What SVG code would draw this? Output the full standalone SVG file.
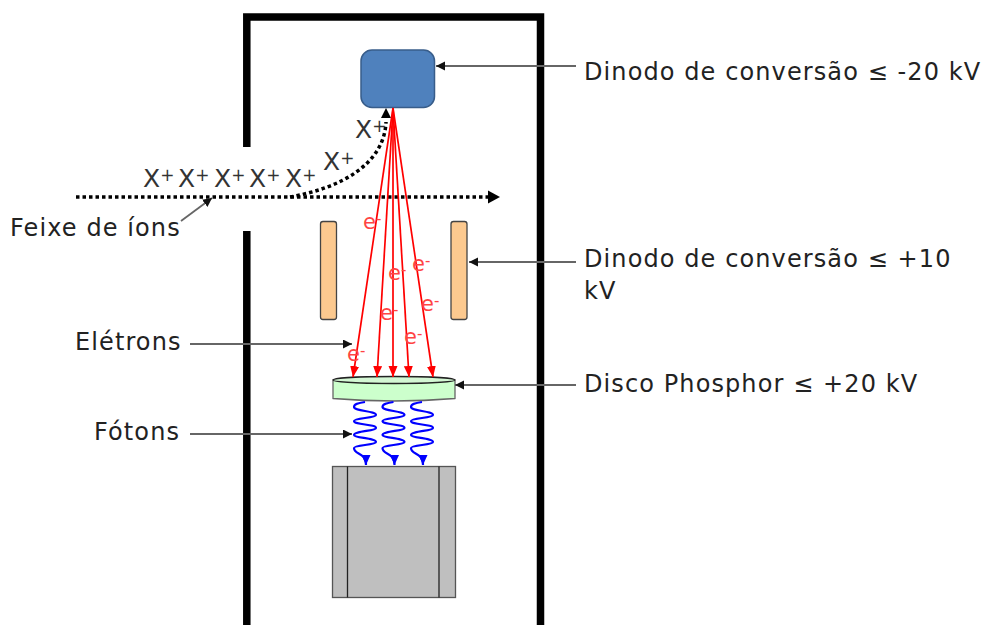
<svg xmlns="http://www.w3.org/2000/svg" width="984" height="625" viewBox="0 0 984 625">
<style>
text{font-family:"DejaVu Sans",Verdana,sans-serif;fill:#222}
.l{font-size:24px;letter-spacing:1.1px}
.x{font-size:25px;fill:#333}
.s{font-size:17px;baseline-shift:35%}
.e{font-size:21px;fill:#f44}
.es{font-size:15px}
.lead{stroke:#666;stroke-width:1.8;fill:none;marker-end:url(#ga)}
.r{stroke:#f00;stroke-width:1.7;fill:none;marker-end:url(#ra)}
.b{stroke:#00f;stroke-width:2.200;fill:none;marker-end:url(#ba)}
.d{stroke:#000;stroke-width:3.500;stroke-dasharray:3.500 3;fill:none}
.plate{fill:#fcc98f;stroke:#444;stroke-width:1.300}
</style>
<defs>
<marker id="ga" markerUnits="userSpaceOnUse" markerWidth="11" markerHeight="11" refX="9" refY="4.500" orient="auto"><path d="M0 0L9 4.500L0 9Z" fill="#111"/></marker>
<marker id="ra" markerUnits="userSpaceOnUse" markerWidth="12" markerHeight="12" refX="11" refY="4.500" orient="auto"><path d="M0 0L11 4.500L0 9Z" fill="#f00"/></marker>
<marker id="ba" markerUnits="userSpaceOnUse" markerWidth="12" markerHeight="12" refX="10" refY="4.500" orient="auto"><path d="M0 0L10 4.500L0 9Z" fill="#00f"/></marker>
<path id="wave" class="b" d="M365 402C358 403 354 404 354 407C354 411 376 411 376 415C376 418 354 418 354 421C354 425 376 424 376 428C376 431 354 431 354 435C354 438 376 438 376 442C376 445 354 445 354 448C354 455 366 452 366 465"/>
</defs>
<g id="housing" fill="none" stroke="#000" stroke-width="7.500">
<path d="M246.800 147V17H540.500V625"/>
<path d="M246.800 231V625"/>
</g>
<g id="conversion-dynode"><rect x="361" y="50" width="73.500" height="57.500" rx="11" fill="#4f81bd" stroke="#385d8a" stroke-width="1.500"/></g>
<g id="plate-left"><rect x="320.500" y="221.500" width="16" height="98" rx="2.500" class="plate"/></g>
<g id="plate-right"><rect x="451" y="221.500" width="16" height="98" rx="2.500" class="plate"/></g>
<g id="phosphor-disc">
<path d="M333 380V398.500Q394 403.500 455 398.500V380Z" fill="#ccffcc" stroke="#666" stroke-width="1.300"/>
<ellipse cx="394" cy="380" rx="61" ry="3.500" fill="#d4f7d4" stroke="#222" stroke-width="1.300"/>
</g>
<g id="detector" fill="#bfbfbf" stroke="#555" stroke-width="1.300">
<rect x="332.500" y="466.500" width="123" height="131"/>
<path d="M347.500 466.500V597.500M439 466.500V597.500" fill="none" stroke="#222"/>
</g>
<g id="connectors">
<path class="d" d="M76 197H490"/>
<path d="M488 190.500L500 197L488 203.500Z" fill="#000"/>
<path class="d" d="M290 197C340 188 384 165 386 122"/>
<path d="M381 118L386 108L391 118Z" fill="#000"/>
<path class="r" d="M393 108L353 377"/>
<path class="r" d="M393 108L377 377"/>
<path class="r" d="M393 108V377"/>
<path class="r" d="M393 108L409 377"/>
<path class="r" d="M393 108L433 377"/>
<use href="#wave"/>
<use href="#wave" x="28.500"/>
<use href="#wave" x="57"/>
<path class="lead" d="M576 66H436"/>
<path class="lead" d="M576 262H469"/>
<path class="lead" d="M576 385H455"/>
<path class="lead" d="M190 344H352"/>
<path class="lead" d="M190 434H352"/>
<path class="lead" d="M181 221L212 198"/>
</g>
<g id="labels">
<text class="l" x="584" y="80">Dinodo de conversão ≤ -20 kV</text>
<text class="l" x="584" y="267">Dinodo de conversão ≤ +10</text>
<text class="l" x="584" y="299">kV</text>
<text class="l" x="584" y="392">Disco Phosphor ≤ +20 kV</text>
<text class="l" x="75" y="350">Elétrons</text>
<text class="l" x="94" y="440">Fótons</text>
<text class="l" x="10" y="236">Feixe de íons</text>
<text class="x" x="143" y="187">X<tspan class="s">+</tspan></text>
<text class="x" x="178" y="187">X<tspan class="s">+</tspan></text>
<text class="x" x="214" y="187">X<tspan class="s">+</tspan></text>
<text class="x" x="249" y="187">X<tspan class="s">+</tspan></text>
<text class="x" x="285" y="187">X<tspan class="s">+</tspan></text>
<text class="x" x="323" y="170">X<tspan class="s">+</tspan></text>
<text class="x" x="355" y="138">X<tspan class="s">+</tspan></text>
<text class="e" x="363" y="229">e<tspan class="es" baseline-shift="35%">-</tspan></text>
<text class="e" x="388" y="280">e<tspan class="es" baseline-shift="35%">-</tspan></text>
<text class="e" x="412" y="271">e<tspan class="es" baseline-shift="35%">-</tspan></text>
<text class="e" x="421" y="311">e<tspan class="es" baseline-shift="35%">-</tspan></text>
<text class="e" x="380" y="320">e<tspan class="es" baseline-shift="35%">-</tspan></text>
<text class="e" x="404" y="344">e<tspan class="es" baseline-shift="35%">-</tspan></text>
<text class="e" x="347" y="361">e<tspan class="es" baseline-shift="35%">-</tspan></text>
</g>
</svg>
